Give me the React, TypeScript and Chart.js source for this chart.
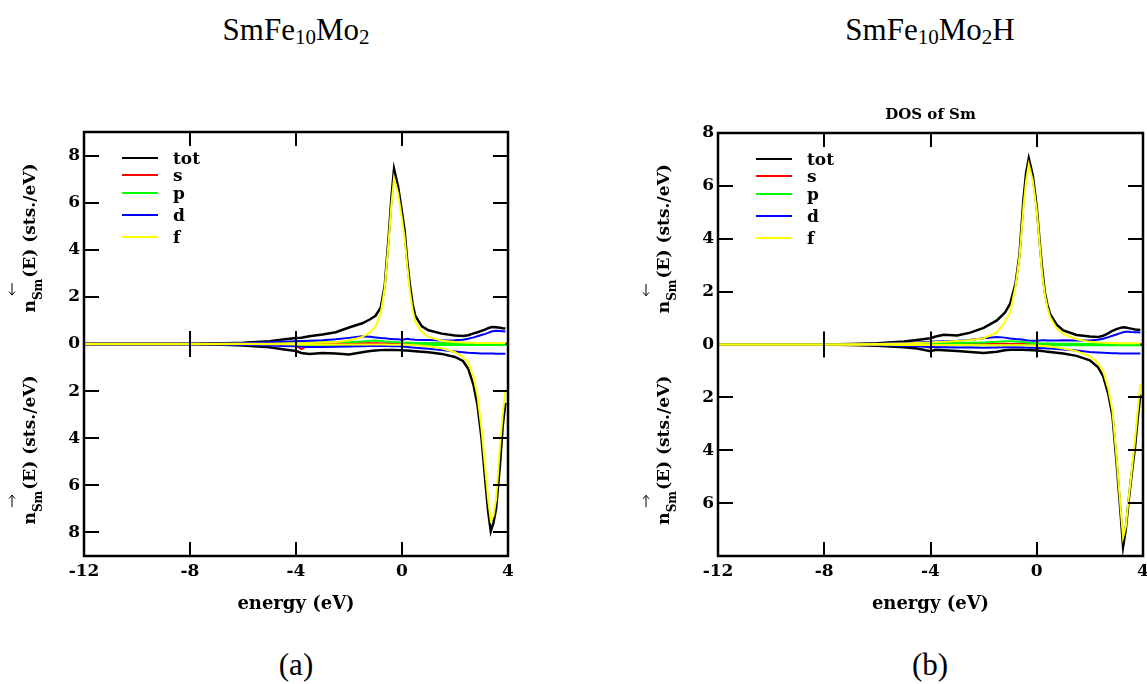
import React, { useEffect, useRef } from "react";
import { Chart, registerables } from "chart.js";

Chart.register(...registerables);

// ---------- data ----------
const energy = [
  -12, -8, -7, -6, -5, -4.5, -4, -3.8, -3.5, -3,
  -2.5, -2, -1.5, -1.2, -1, -0.8, -0.65, -0.5, -0.4, -0.3,
  -0.15, 0, 0.1, 0.2, 0.3, 0.4, 0.5, 0.75, 1, 1.5,
  2, 2.3, 2.5, 2.7, 2.85, 3, 3.15, 3.25, 3.35, 3.45,
  3.55, 3.7, 3.8, 3.9,
];

const seriesNames = ["tot", "s", "p", "d", "f"];
const seriesColors = ["#000000", "#ff0000", "#00ff00", "#0000ff", "#ffff00"];
const xTickValues = [-12, -8, -4, 0, 4];
const aYTicks = [-8, -6, -4, -2, 0, 2, 4, 6, 8];
const bYTicks = [-6, -4, -2, 0, 2, 4, 6, 8];

// (a) SmFe10Mo2 — upper half (n↓)
const aTotTop = [0, 0, 0.02, 0.05, 0.12, 0.19, 0.25, 0.27, 0.33, 0.4, 0.5, 0.7, 0.88, 1.05, 1.2, 1.55, 2.5, 4.6, 6.2, 7.43, 6.7, 5.6, 4.8, 3.5, 2.5, 1.7, 1.2, 0.75, 0.58, 0.44, 0.36, 0.34, 0.37, 0.45, 0.5, 0.56, 0.62, 0.67, 0.71, 0.72, 0.71, 0.69, 0.67, 0.66];
const aSTop = [0, 0, 0.01, 0.02, 0.03, 0.04, 0.05, 0.06, 0.05, 0.05, 0.04, 0.04, 0.03, 0.03, 0.03, 0.02, 0.02, 0.02, 0.02, 0.02, 0.02, 0.02, 0.02, 0.01, 0.01, 0.01, 0.01, 0.01, 0.01, 0.01, 0.01, 0.01, 0.01, 0.01, 0.01, 0.01, 0.01, 0.01, 0.01, 0.01, 0.01, 0.01, 0.01, 0.01];
const aPTop = [0, 0, 0.01, 0.02, 0.04, 0.05, 0.06, 0.06, 0.07, 0.07, 0.08, 0.09, 0.11, 0.14, 0.15, 0.13, 0.11, 0.1, 0.09, 0.08, 0.07, 0.06, 0.05, 0.05, 0.05, 0.04, 0.04, 0.04, 0.03, 0.03, 0.02, 0.02, 0.02, 0.02, 0.02, 0.02, 0.02, 0.02, 0.02, 0.02, 0.02, 0.02, 0.02, 0.02];
const aDTop = [0, 0, 0.01, 0.03, 0.07, 0.1, 0.12, 0.13, 0.14, 0.16, 0.2, 0.26, 0.33, 0.31, 0.28, 0.25, 0.24, 0.22, 0.21, 0.2, 0.2, 0.18, 0.2, 0.22, 0.2, 0.19, 0.18, 0.17, 0.17, 0.15, 0.16, 0.18, 0.22, 0.28, 0.33, 0.38, 0.43, 0.47, 0.52, 0.55, 0.56, 0.55, 0.54, 0.53];
const aFTop = [0, 0, 0, 0.01, 0.01, 0.02, 0.03, 0.03, 0.04, 0.06, 0.09, 0.15, 0.3, 0.5, 0.75, 1.3, 2.4, 4.4, 5.9, 7.05, 6.4, 5.3, 4.5, 3.3, 2.2, 1.45, 0.95, 0.5, 0.3, 0.14, 0.08, 0.06, 0.05, 0.05, 0.04, 0.04, 0.04, 0.04, 0.04, 0.04, 0.04, 0.04, 0.04, 0.04];

// (a) lower half (n↑), drawn downwards
const aTotBot = [0, 0, -0.02, -0.06, -0.14, -0.22, -0.3, -0.38, -0.42, -0.38, -0.4, -0.45, -0.35, -0.3, -0.28, -0.26, -0.25, -0.25, -0.25, -0.25, -0.26, -0.27, -0.28, -0.28, -0.29, -0.3, -0.31, -0.33, -0.35, -0.42, -0.55, -0.72, -1.05, -1.75, -2.6, -4.0, -5.9, -7.1, -7.95, -7.6, -7.0, -5.1, -3.5, -2.5];
const aSBot = [0, 0, -0.01, -0.01, -0.02, -0.03, -0.06, -0.22, -0.06, -0.03, -0.02, -0.02, -0.02, -0.02, -0.02, -0.01, -0.01, -0.01, -0.01, -0.01, -0.01, -0.01, -0.01, -0.01, -0.01, -0.01, -0.01, -0.01, -0.01, -0.01, -0.01, -0.01, -0.01, -0.01, -0.01, -0.01, -0.01, -0.01, -0.01, -0.01, -0.01, -0.01, -0.01, -0.01];
const aPBot = [0, 0, -0.01, -0.02, -0.03, -0.04, -0.05, -0.05, -0.05, -0.05, -0.05, -0.05, -0.05, -0.04, -0.04, -0.04, -0.04, -0.04, -0.04, -0.04, -0.04, -0.04, -0.04, -0.04, -0.04, -0.04, -0.04, -0.04, -0.04, -0.04, -0.04, -0.04, -0.04, -0.04, -0.04, -0.04, -0.04, -0.04, -0.04, -0.04, -0.04, -0.04, -0.04, -0.04];
const aDBot = [0, 0, -0.01, -0.03, -0.06, -0.08, -0.1, -0.12, -0.13, -0.13, -0.12, -0.11, -0.1, -0.09, -0.09, -0.09, -0.09, -0.09, -0.1, -0.1, -0.1, -0.11, -0.12, -0.13, -0.14, -0.15, -0.16, -0.18, -0.2, -0.26, -0.32, -0.35, -0.37, -0.38, -0.39, -0.4, -0.4, -0.4, -0.4, -0.4, -0.41, -0.41, -0.41, -0.41];
const aFBot = [0, 0, 0, 0, -0.01, -0.01, -0.02, -0.02, -0.02, -0.02, -0.02, -0.02, -0.02, -0.02, -0.02, -0.02, -0.02, -0.03, -0.03, -0.03, -0.03, -0.03, -0.03, -0.04, -0.04, -0.05, -0.05, -0.07, -0.1, -0.18, -0.35, -0.55, -0.8, -1.4, -2.2, -3.6, -5.4, -6.6, -7.5, -7.3, -6.6, -4.3, -3.0, -2.0];

// (b) SmFe10Mo2H — upper half (n↓)
const bTotTop = [0, 0, 0.02, 0.05, 0.11, 0.17, 0.24, 0.3, 0.37, 0.34, 0.45, 0.63, 0.91, 1.2, 1.55, 2.3, 3.4, 5.5, 6.5, 7.04, 6.4, 5.2, 4.0, 2.9, 2.0, 1.5, 1.16, 0.75, 0.53, 0.36, 0.3, 0.28, 0.33, 0.43, 0.52, 0.58, 0.63, 0.65, 0.64, 0.62, 0.6, 0.57, 0.56, 0.55];
const bSTop = [0, 0, 0.01, 0.02, 0.03, 0.04, 0.05, 0.05, 0.05, 0.04, 0.04, 0.03, 0.03, 0.03, 0.02, 0.02, 0.02, 0.02, 0.02, 0.02, 0.02, 0.02, 0.01, 0.01, 0.01, 0.01, 0.01, 0.01, 0.01, 0.01, 0.01, 0.01, 0.01, 0.01, 0.01, 0.01, 0.01, 0.01, 0.01, 0.01, 0.01, 0.01, 0.01, 0.01];
const bPTop = [0, 0, 0.01, 0.02, 0.03, 0.04, 0.05, 0.05, 0.06, 0.06, 0.07, 0.08, 0.1, 0.12, 0.12, 0.11, 0.1, 0.09, 0.08, 0.07, 0.06, 0.05, 0.05, 0.04, 0.04, 0.04, 0.04, 0.03, 0.03, 0.03, 0.02, 0.02, 0.02, 0.02, 0.02, 0.02, 0.02, 0.02, 0.02, 0.02, 0.02, 0.02, 0.02, 0.02];
const bDTop = [0, 0, 0.01, 0.03, 0.06, 0.08, 0.1, 0.11, 0.12, 0.14, 0.18, 0.24, 0.28, 0.26, 0.23, 0.21, 0.2, 0.18, 0.16, 0.15, 0.14, 0.14, 0.15, 0.16, 0.16, 0.15, 0.15, 0.15, 0.16, 0.15, 0.15, 0.18, 0.22, 0.28, 0.33, 0.38, 0.43, 0.46, 0.48, 0.48, 0.47, 0.46, 0.46, 0.45];
const bFTop = [0, 0, 0.01, 0.02, 0.04, 0.06, 0.08, 0.09, 0.1, 0.13, 0.17, 0.24, 0.46, 0.85, 1.22, 2.2, 3.3, 5.2, 6.2, 6.82, 6.2, 5.06, 3.9, 2.7, 1.9, 1.4, 1.05, 0.6, 0.4, 0.2, 0.1, 0.08, 0.07, 0.06, 0.06, 0.05, 0.05, 0.05, 0.05, 0.05, 0.05, 0.05, 0.05, 0.05];

// (b) lower half (n↑)
const bTotBot = [0, 0, -0.02, -0.05, -0.1, -0.15, -0.25, -0.2, -0.22, -0.25, -0.28, -0.32, -0.27, -0.22, -0.2, -0.2, -0.2, -0.2, -0.21, -0.21, -0.22, -0.23, -0.24, -0.25, -0.26, -0.27, -0.28, -0.31, -0.34, -0.43, -0.6, -0.85, -1.2, -1.9, -2.7, -4.4, -6.3, -7.65, -7.0, -6.0, -5.1, -3.87, -2.8, -1.9];
const bSBot = [0, 0, -0.01, -0.01, -0.02, -0.03, -0.12, -0.04, -0.02, -0.02, -0.02, -0.02, -0.01, -0.01, -0.01, -0.01, -0.01, -0.01, -0.01, -0.01, -0.01, -0.01, -0.01, -0.01, -0.01, -0.01, -0.01, -0.01, -0.01, -0.01, -0.01, -0.01, -0.01, -0.01, -0.01, -0.01, -0.01, -0.01, -0.01, -0.01, -0.01, -0.01, -0.01, -0.01];
const bPBot = [0, 0, -0.01, -0.01, -0.02, -0.03, -0.03, -0.03, -0.03, -0.03, -0.03, -0.03, -0.03, -0.03, -0.03, -0.03, -0.03, -0.03, -0.03, -0.03, -0.03, -0.03, -0.03, -0.03, -0.03, -0.03, -0.03, -0.03, -0.03, -0.03, -0.03, -0.03, -0.03, -0.03, -0.03, -0.03, -0.03, -0.03, -0.03, -0.03, -0.03, -0.03, -0.03, -0.03];
const bDBot = [0, 0, -0.01, -0.03, -0.05, -0.07, -0.09, -0.1, -0.1, -0.11, -0.11, -0.12, -0.11, -0.1, -0.1, -0.1, -0.1, -0.11, -0.11, -0.12, -0.12, -0.13, -0.13, -0.14, -0.14, -0.15, -0.15, -0.17, -0.19, -0.23, -0.28, -0.3, -0.31, -0.32, -0.33, -0.33, -0.34, -0.34, -0.34, -0.34, -0.34, -0.34, -0.34, -0.34];
const bFBot = [0, 0, -0.01, -0.01, -0.02, -0.02, -0.02, -0.02, -0.02, -0.02, -0.02, -0.03, -0.03, -0.03, -0.03, -0.03, -0.03, -0.03, -0.04, -0.04, -0.04, -0.05, -0.05, -0.06, -0.06, -0.07, -0.08, -0.11, -0.15, -0.25, -0.45, -0.7, -1.0, -1.7, -2.5, -4.2, -6.1, -7.3, -6.9, -5.9, -5.0, -3.6, -2.5, -1.5];

// ---------- drawing helpers ----------
const SERIF = '"DejaVu Serif", serif';
const CANVAS_TOP = 100;
const CANVAS_H = 540;
const X_AXIS_H = 84;
const Y_AXIS_W = 84;
const LEGEND_ROWS = [26, 43, 61, 83, 105];

function drawArrow(ctx: CanvasRenderingContext2D, x: number, y: number, up: boolean) {
  ctx.save();
  ctx.strokeStyle = "#000";
  ctx.lineWidth = 1;
  const h = 6;
  ctx.beginPath();
  ctx.moveTo(x, y - h);
  ctx.lineTo(x, y + h);
  if (up) {
    ctx.moveTo(x - 3, y - h + 3.5);
    ctx.lineTo(x, y - h);
    ctx.lineTo(x + 3, y - h + 3.5);
  } else {
    ctx.moveTo(x - 3, y + h - 3.5);
    ctx.lineTo(x, y + h);
    ctx.lineTo(x + 3, y + h - 3.5);
  }
  ctx.stroke();
  ctx.restore();
}

function drawSpinLabel(ctx: CanvasRenderingContext2D, baseX: number, centerY: number, up: boolean) {
  const big = `bold 17px ${SERIF}`;
  const small = `bold 12px ${SERIF}`;
  const rest = "(E) (sts./eV)";
  ctx.save();
  ctx.font = big;
  const wn = ctx.measureText("n").width;
  const wr = ctx.measureText(rest).width;
  ctx.font = small;
  const ws = ctx.measureText("Sm").width;
  const total = wn + ws + 1 + wr;
  const startY = centerY + total / 2;
  ctx.translate(baseX, startY);
  ctx.rotate(-Math.PI / 2);
  ctx.fillStyle = "#000";
  ctx.textAlign = "left";
  ctx.textBaseline = "alphabetic";
  ctx.font = big;
  ctx.fillText("n", 0, 0);
  ctx.font = small;
  ctx.fillText("Sm", wn, 7);
  ctx.font = big;
  ctx.fillText(rest, wn + ws + 1, 0);
  ctx.restore();
  drawArrow(ctx, baseX - 23, startY - wn - 11, up);
}

function makeDecor(heading: string | null) {
  return {
    id: "dosDecor",
    beforeDatasetsDraw(chart: any) {
      const { ctx, chartArea: a, scales } = chart;
      const y0 = scales.y.getPixelForValue(0);
      ctx.save();
      ctx.strokeStyle = "#000";
      ctx.lineWidth = 2.5;
      ctx.beginPath();
      ctx.moveTo(a.left, y0);
      ctx.lineTo(a.right, y0);
      ctx.stroke();
      ctx.restore();
    },
    afterDatasetsDraw(chart: any) {
      const { ctx, chartArea: a, scales } = chart;
      const xs = scales.x;
      const ys = scales.y;
      const y0 = ys.getPixelForValue(0);
      ctx.save();
      ctx.strokeStyle = "#000";
      ctx.lineWidth = 2;
      ctx.beginPath();
      ys.ticks.forEach((t: any) => {
        if (t.value === 0 || t.value <= ys.min || t.value >= ys.max) return;
        const py = Math.round(ys.getPixelForValue(t.value));
        ctx.moveTo(a.left, py);
        ctx.lineTo(a.left + 15, py);
        ctx.moveTo(a.right, py);
        ctx.lineTo(a.right - 15, py);
      });
      xs.ticks.forEach((t: any) => {
        if (t.value <= xs.min || t.value >= xs.max) return;
        const px = Math.round(xs.getPixelForValue(t.value));
        ctx.moveTo(px, a.top);
        ctx.lineTo(px, a.top + 14);
        ctx.moveTo(px, a.bottom);
        ctx.lineTo(px, a.bottom - 14);
        ctx.moveTo(px, y0 - 13);
        ctx.lineTo(px, y0 + 13);
      });
      ctx.stroke();
      ctx.lineWidth = 2.5;
      ctx.strokeRect(a.left, a.top, a.right - a.left, a.bottom - a.top);

      // legend
      ctx.textAlign = "left";
      ctx.textBaseline = "alphabetic";
      ctx.font = `bold 17px ${SERIF}`;
      seriesNames.forEach((name, i) => {
        const ly = a.top + LEGEND_ROWS[i];
        ctx.strokeStyle = seriesColors[i];
        ctx.lineWidth = 2;
        ctx.beginPath();
        ctx.moveTo(a.left + 38, ly);
        ctx.lineTo(a.left + 74, ly);
        ctx.stroke();
        ctx.fillStyle = "#000";
        ctx.fillText(name, a.left + 89, ly + 6);
      });

      // axis titles
      ctx.fillStyle = "#000";
      ctx.textAlign = "center";
      ctx.font = `bold 18px ${SERIF}`;
      ctx.fillText("energy (eV)", (a.left + a.right) / 2, a.bottom + 53);
      drawSpinLabel(ctx, a.left - 49, (a.top + y0) / 2, false);
      drawSpinLabel(ctx, a.left - 49, (y0 + a.bottom) / 2, true);

      if (heading) {
        ctx.textAlign = "center";
        ctx.font = `bold 15px ${SERIF}`;
        ctx.fillText(heading, (a.left + a.right) / 2, a.top - 14);
      }
      ctx.restore();
    },
  };
}

type PanelProps = {
  left: number;
  width: number;
  padLeft: number;
  padRight: number;
  padTop: number;
  yMin: number;
  yMax: number;
  yTicks: number[];
  upper: number[][];
  lower: number[][];
  heading: string | null;
};

function DosPanel(p: PanelProps) {
  const ref = useRef<HTMLCanvasElement | null>(null);
  useEffect(() => {
    const canvas = ref.current;
    if (!canvas) return;
    const datasets: any[] = [];
    seriesNames.forEach((name, i) => {
      [p.upper[i], p.lower[i]].forEach((arr) => {
        datasets.push({
          label: name,
          data: energy.map((e, k) => ({ x: e, y: arr[k] })),
          borderColor: seriesColors[i],
          backgroundColor: seriesColors[i],
          borderWidth: i === 0 ? 2.5 : 2,
          pointRadius: 0,
          fill: false,
          tension: 0,
          order: 5 - i,
        });
      });
    });
    const font = { family: SERIF, size: 17, weight: "bold" as const };
    const chart = new Chart(canvas, {
      type: "line",
      data: { datasets },
      options: {
        animation: false,
        responsive: false,
        maintainAspectRatio: false,
        layout: { padding: { left: p.padLeft, right: p.padRight, top: p.padTop, bottom: 0 } },
        plugins: { legend: { display: false }, tooltip: { enabled: false }, title: { display: false } },
        scales: {
          x: {
            type: "linear",
            min: -12,
            max: 4,
            afterBuildTicks: (s: any) => {
              s.ticks = xTickValues.map((v) => ({ value: v }));
            },
            afterFit: (s: any) => {
              s.height = X_AXIS_H;
              s.paddingLeft = 0;
              s.paddingRight = 0;
            },
            grid: { display: false, drawTicks: false },
            border: { display: false },
            ticks: {
              color: "#000",
              font,
              padding: 5,
              maxRotation: 0,
              autoSkip: false,
              callback: (v: any) => String(v),
            },
          },
          y: {
            type: "linear",
            min: p.yMin,
            max: p.yMax,
            afterBuildTicks: (s: any) => {
              s.ticks = p.yTicks.map((v) => ({ value: v }));
            },
            afterFit: (s: any) => {
              s.width = Y_AXIS_W;
              s.paddingTop = 0;
              s.paddingBottom = 0;
            },
            grid: { display: false, drawTicks: false },
            border: { display: false },
            ticks: {
              color: "#000",
              font,
              padding: 4,
              autoSkip: false,
              callback: (v: any) => String(Math.abs(Number(v))),
            },
          },
        },
      } as any,
      plugins: [makeDecor(p.heading)],
    });
    return () => chart.destroy();
  }, []);
  return (
    <canvas
      ref={ref}
      width={p.width}
      height={CANVAS_H}
      style={{ position: "absolute", left: p.left, top: CANVAS_TOP, width: p.width, height: CANVAS_H }}
    />
  );
}

const titleStyle = (cx: number): React.CSSProperties => ({
  position: "absolute",
  left: cx - 200,
  width: 400,
  top: 14,
  textAlign: "center",
  fontFamily: '"Liberation Serif", "Times New Roman", serif',
  fontSize: 31,
  lineHeight: "31px",
  whiteSpace: "nowrap",
  color: "#000",
});

const subStyle: React.CSSProperties = { fontSize: 21, position: "relative", top: 4 };

const captionStyle = (cx: number): React.CSSProperties => ({
  position: "absolute",
  left: cx - 100,
  width: 200,
  top: 649,
  textAlign: "center",
  fontFamily: '"Liberation Serif", "Times New Roman", serif',
  fontSize: 31,
  lineHeight: "31px",
  color: "#000",
});

export default function App() {
  return (
    <div
      style={{
        position: "fixed",
        left: 0,
        top: 0,
        width: 1147,
        height: 684,
        overflow: "hidden",
        background: "#fff",
      }}
    >
      <div style={titleStyle(296)}>
        SmFe<span style={subStyle}>10</span>Mo<span style={subStyle}>2</span>
      </div>
      <div style={titleStyle(930)}>
        SmFe<span style={subStyle}>10</span>Mo<span style={subStyle}>2</span>H
      </div>
      <DosPanel
        left={0}
        width={560}
        padLeft={0}
        padRight={52}
        padTop={32}
        yMin={-9}
        yMax={9}
        yTicks={aYTicks}
        upper={[aTotTop, aSTop, aPTop, aDTop, aFTop]}
        lower={[aTotBot, aSBot, aPBot, aDBot, aFBot]}
        heading={null}
      />
      <DosPanel
        left={590}
        width={557}
        padLeft={44}
        padRight={4}
        padTop={33}
        yMin={-8}
        yMax={8}
        yTicks={bYTicks}
        upper={[bTotTop, bSTop, bPTop, bDTop, bFTop]}
        lower={[bTotBot, bSBot, bPBot, bDBot, bFBot]}
        heading={"DOS of Sm"}
      />
      <div style={captionStyle(296)}>(a)</div>
      <div style={captionStyle(930)}>(b)</div>
    </div>
  );
}
